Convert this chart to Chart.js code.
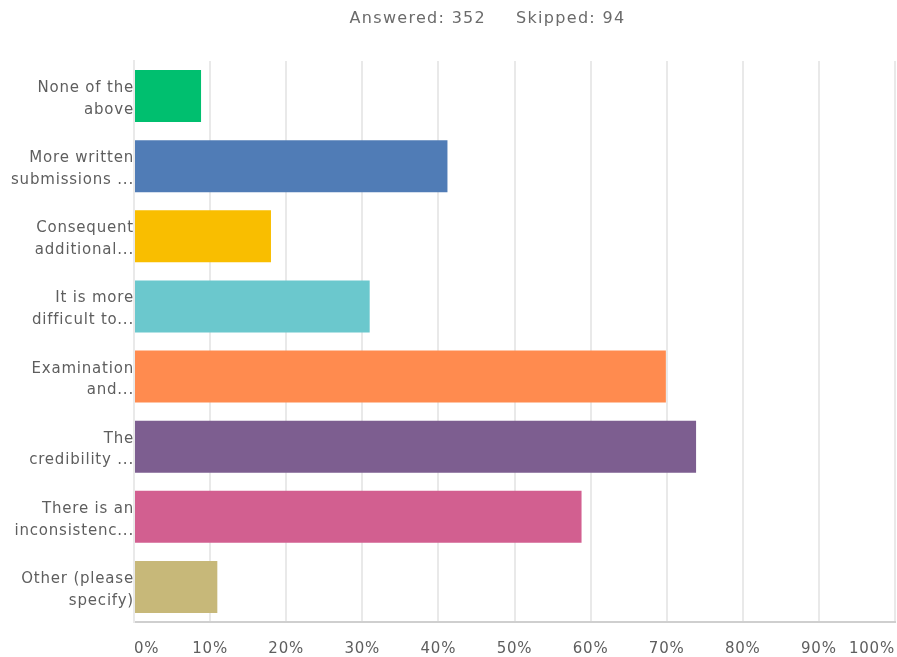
<!DOCTYPE html>
<html>
<head>
<meta charset="utf-8">
<script src="https://cdn.jsdelivr.net/npm/chart.js@4/dist/chart.umd.min.js"></script>
<style>
  html, body { margin: 0; padding: 0; background: #fff; }
  #wrap { position: relative; width: 897px; height: 657px; }
  #summary {
    position: absolute; top: 8px; left: 0; width: 897px;
    box-sizing: border-box; padding-left: 78px;
    text-align: center; letter-spacing: 1.3px;
    font: 16px "DejaVu Sans", sans-serif; color: #6b6b6b;
  }
  #summary span + span { margin-left: 30px; }
</style>
</head>
<body>
<div id="wrap">
  <div id="summary"><span>Answered: 352</span><span>Skipped: 94</span></div>
  <canvas id="chart"></canvas>
</div>
<script>
const labels = [
    ['None of the', 'above'],
    ['More written', 'submissions ...'],
    ['Consequent', 'additional...'],
    ['It is more', 'difficult to...'],
    ['Examination', 'and...'],
    ['The', 'credibility ...'],
    ['There is an', 'inconsistenc...'],
    ['Other (please', 'specify)']
];
const percents = [8.81, 41.19, 18.0, 30.97, 69.89, 73.86, 58.81, 10.95];
const barColors = ['#00bf6f', '#507cb6', '#f9be00', '#6bc8cd', '#ff8b4f', '#7d5e90', '#d25f90', '#c7b879'];
const tickValues = [0, 10, 20, 30, 40, 50, 60, 70, 80, 90, 100];

const textColor = '#5e5e5e';
const font = { family: '"DejaVu Sans", sans-serif', size: 15 };

// wide letter spacing for every canvas label
const spacing = {
    id: 'spacing',
    beforeUpdate: c => { c.ctx.letterSpacing = '0.8px'; },
    beforeDraw: c => { c.ctx.letterSpacing = '0.8px'; }
};

const ctx = document.getElementById('chart').getContext('2d');
new Chart(ctx, {
    type: 'bar',
    data: {
        labels,
        datasets: [{
            data: percents,
            backgroundColor: barColors,
            barPercentage: 0.74,
            categoryPercentage: 1
        }]
    },
    plugins: [spacing],
    options: {
        indexAxis: 'y',
        responsive: true,
        maintainAspectRatio: false,
        animation: false,
        layout: { padding: { top: 61, right: 2, bottom: 0, left: 0 } },
        plugins: {
            legend: { display: false },
            tooltip: { enabled: false }
        },
        scales: {
            x: {
                min: 0,
                max: 100,
                afterBuildTicks: s => { s.ticks = tickValues.map(v => ({ value: v })); },
                afterFit: s => { s.height = 35; s.paddingLeft = 0; s.paddingRight = 0; },
                grid: { color: '#e9e9e9', lineWidth: 2, drawTicks: false },
                border: { color: '#cfcfcf', width: 2 },
                ticks: {
                    align: 'inner',
                    padding: 18,
                    color: textColor,
                    font,
                    callback: v => v + '%'
                }
            },
            y: {
                afterFit: s => { s.width = 134; s.paddingTop = 0; s.paddingBottom = 0; },
                grid: { display: false, drawTicks: false },
                border: { color: '#e9e9e9', width: 2 },
                ticks: {
                    padding: 0,
                    labelOffset: 3,
                    color: textColor,
                    font: { ...font, lineHeight: 1.45 }
                }
            }
        }
    }
});
</script>
</body>
</html>
